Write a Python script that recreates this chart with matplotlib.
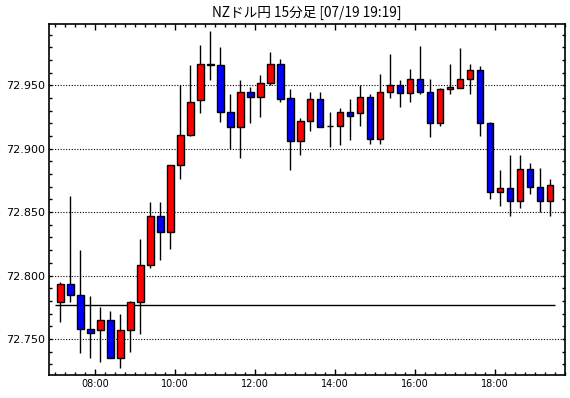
import numpy as np
import pandas as pd
import matplotlib
matplotlib.use("Agg")
import matplotlib.pyplot as plt
import matplotlib.dates as mdates
from matplotlib.ticker import MultipleLocator, FormatStrFormatter

plt.rcParams['font.family'] = ['Noto Sans CJK JP', 'DejaVu Sans']

TITLE = "NZドル円 15分足 [07/19 19:19]"

# 15-minute bars, 07:00 .. 19:15
times = pd.date_range("2024-07-19 07:00", periods=50, freq="15min")

opens = [72.779, 72.793, 72.785, 72.758, 72.757, 72.765, 72.735, 72.757, 72.779, 72.808,
         72.847, 72.834, 72.887, 72.911, 72.938, 72.967, 72.966, 72.929, 72.917, 72.945,
         72.941, 72.952, 72.967, 72.940, 72.906, 72.922, 72.939, 72.918, 72.918, 72.929,
         72.928, 72.941, 72.908, 72.945, 72.950, 72.944, 72.955, 72.945, 72.920, 72.947,
         72.948, 72.955, 72.962, 72.920, 72.866, 72.869, 72.859, 72.884, 72.870, 72.859]
highs = [72.795, 72.863, 72.820, 72.784, 72.775, 72.772, 72.770, 72.780, 72.829, 72.858,
         72.858, 72.887, 72.950, 72.966, 72.982, 72.993, 72.980, 72.943, 72.954, 72.949,
         72.958, 72.976, 72.971, 72.947, 72.924, 72.945, 72.945, 72.929, 72.932, 72.939,
         72.950, 72.943, 72.959, 72.975, 72.954, 72.963, 72.981, 72.955, 72.948, 72.967,
         72.979, 72.967, 72.965, 72.921, 72.883, 72.895, 72.895, 72.889, 72.885, 72.876]
lows = [72.763, 72.779, 72.739, 72.735, 72.732, 72.735, 72.727, 72.740, 72.754, 72.806,
        72.812, 72.821, 72.876, 72.910, 72.928, 72.954, 72.921, 72.900, 72.893, 72.920,
        72.925, 72.950, 72.937, 72.883, 72.895, 72.914, 72.917, 72.901, 72.903, 72.907,
        72.918, 72.904, 72.904, 72.940, 72.933, 72.937, 72.943, 72.909, 72.918, 72.943,
        72.948, 72.943, 72.910, 72.860, 72.855, 72.847, 72.853, 72.864, 72.850, 72.847]
closes = [72.793, 72.785, 72.758, 72.755, 72.765, 72.735, 72.757, 72.779, 72.808, 72.847,
          72.834, 72.887, 72.911, 72.937, 72.967, 72.966, 72.929, 72.917, 72.945, 72.941,
          72.952, 72.967, 72.939, 72.906, 72.922, 72.939, 72.917, 72.918, 72.929, 72.926,
          72.941, 72.908, 72.945, 72.950, 72.944, 72.955, 72.945, 72.920, 72.947, 72.949,
          72.955, 72.962, 72.920, 72.866, 72.869, 72.859, 72.884, 72.870, 72.859, 72.871]

ref_price = 72.777

o = np.array(opens)
h = np.array(highs)
l = np.array(lows)
c = np.array(closes)

bar_start = mdates.date2num(times)
step = 15 / 1440
x = bar_start + step / 2
colors = np.where(c >= o, "#FF0000", "#0000FF")

fig = plt.figure(figsize=(5.70, 3.98), dpi=100)
ax = fig.add_axes([49 / 570, 23 / 398, 516 / 570, 351 / 398])

ax.vlines(x, l, h, color="black", linewidth=1.0, zorder=2)
ax.bar(x, np.abs(c - o), bottom=np.minimum(o, c), width=10 / 1440,
       color=colors, edgecolor="black", linewidth=1.0, zorder=3)

ax.hlines(ref_price, bar_start[0], bar_start[-1] + step, color="black", linewidth=1.0, zorder=1)

for v in [72.75, 72.80, 72.85, 72.90, 72.95]:
    ax.axhline(v, color="black", linewidth=0.8, linestyle=(0, (1, 1.5)), zorder=0)

ax.set_xlim(bar_start[0] - 9.5 / 1440, bar_start[-1] + 30 / 1440)
ax.set_ylim(72.7216, 72.9983)

ax.xaxis.set_major_locator(mdates.HourLocator(byhour=range(0, 24, 2)))
ax.xaxis.set_minor_locator(mdates.MinuteLocator(byminute=[0, 15, 30, 45]))
ax.xaxis.set_major_formatter(mdates.DateFormatter("%H:%M"))
ax.yaxis.set_major_locator(MultipleLocator(0.05))
ax.yaxis.set_minor_locator(MultipleLocator(0.01))
ax.yaxis.set_major_formatter(FormatStrFormatter("%.3f"))

ax.tick_params(which="both", direction="in", top=True, right=True, width=1.0)
ax.tick_params(axis="x", which="major", length=4.5, labelsize=7, pad=3)
ax.tick_params(axis="x", which="minor", length=2.3)
ax.tick_params(axis="y", which="major", length=2.3, labelsize=8, pad=3)
ax.tick_params(axis="y", which="minor", length=2.3)
for lab in ax.get_xticklabels() + ax.get_yticklabels():
    lab.set_family("DejaVu Sans")

for sp in ax.spines.values():
    sp.set_linewidth(1.2)

fig.text(307 / 570, 1 - 13 / 398, TITLE, ha="center", va="center", fontsize=9.8)

fig.savefig("out.png", dpi=100)
plt.close()
